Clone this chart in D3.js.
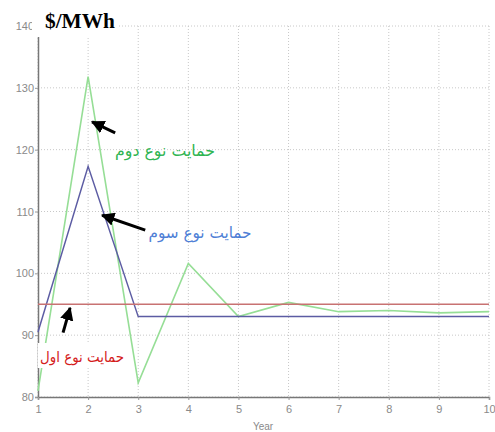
<!DOCTYPE html>
<html><head><meta charset="utf-8">
<script src="https://cdn.jsdelivr.net/npm/d3@7/dist/d3.min.js"></script>
<style>body{margin:0;background:#fff}svg{display:block}</style>
</head><body>
<svg id="c" width="495" height="432"></svg>
<script>
const years = [1,2,3,4,5,6,7,8,9,10];
const type1 = [95,95,95,95,95,95,95,95,95,95];
const type2 = [81,131.8,82.3,101.6,93,95.3,93.8,94,93.6,93.8];
const type3 = [90.5,117.3,93,93,93,93,93,93,93,93];
const yTicks = [80,90,100,110,120,130,140];
const xTicks = [1,2,3,4,5,6,7,8,9,10];
const labelType1 = "حمایت نوع اول";
const labelType2 = "حمایت نوع دوم";
const labelType3 = "حمایت نوع سوم";
const unitLabel = "$/MWh";
const xTitle = "Year";

const svg = d3.select("#c");
const x = d3.scaleLinear().domain([1,10]).range([38,489]);
const y = d3.scaleLinear().domain([80,140]).range([397,26]);

// grid
const grid = svg.append("g");
grid.selectAll("line.gx").data(xTicks).join("line")
  .attr("x1",d=>x(d)).attr("x2",d=>x(d)).attr("y1",y(140)).attr("y2",y(80))
  .attr("stroke","#c8c8c8").attr("stroke-width",1).attr("stroke-dasharray","1,2");
grid.selectAll("line.gy").data(yTicks).join("line")
  .attr("y1",d=>y(d)).attr("y2",d=>y(d)).attr("x1",x(1)).attr("x2",x(10))
  .attr("stroke","#c8c8c8").attr("stroke-width",1).attr("stroke-dasharray","1,2");

// axes
const yAxis = d3.axisLeft(y).tickValues(yTicks).tickSize(3).tickPadding(1);
const xAxis = d3.axisBottom(x).tickValues(xTicks).tickSize(3).tickPadding(5);
const gy = svg.append("g").attr("transform",`translate(${x(1)},0)`).call(yAxis);
const gx = svg.append("g").attr("transform",`translate(0,${y(80)})`).call(xAxis);
[gy,gx].forEach(g=>{
  g.select(".domain").attr("stroke","#777").attr("stroke-width",1.5);
  g.selectAll(".tick line").attr("stroke","#999");
  g.selectAll("text").attr("fill","#8a8a8a").style("font-family","Liberation Sans, Arial, sans-serif").style("font-size","11px");
});
svg.append("text").attr("x",263).attr("y",430).attr("text-anchor","middle")
  .attr("fill","#8a8a8a").style("font-family","Liberation Sans, Arial, sans-serif").style("font-size","10px").text(xTitle);

// lines
const line = d3.line().x((d,i)=>x(years[i])).y(d=>y(d));
svg.append("path").datum(type2).attr("d",line).attr("fill","none").attr("stroke","#96de96").attr("stroke-width",1.6);
svg.append("path").datum(type3).attr("d",line).attr("fill","none").attr("stroke","#5c5ca3").attr("stroke-width",1.5);
svg.append("path").datum(type1).attr("d",line).attr("fill","none").attr("stroke","#c87272").attr("stroke-width",1.5);

// unit box
svg.append("rect").attr("x",32).attr("y",0).attr("width",86).attr("height",37).attr("fill","#fff");
svg.append("text").attr("x",45).attr("y",28).attr("fill","#000")
  .style("font-family","Liberation Serif, Times New Roman, serif").style("font-weight","bold").style("font-size","20px")
  .attr("textLength",70).attr("lengthAdjust","spacingAndGlyphs").text(unitLabel);

// arrows
const defs = svg.append("defs");
defs.append("marker").attr("id","ah").attr("viewBox","0 0 10 10").attr("refX",9).attr("refY",5)
  .attr("markerWidth",4.5).attr("markerHeight",4.5).attr("orient","auto")
  .append("path").attr("d","M0,0 L10,5 L0,10 z").attr("fill","#000");
const arrows = [
  {x1:2.54,y1:122.7,x2:2.08,y2:124.5},
  {x1:3.14,y1:107.0,x2:2.28,y2:109.4},
  {x1:1.50,y1:90.4,x2:1.64,y2:94.4}
];
svg.selectAll("line.arr").data(arrows).join("line")
  .attr("x1",d=>x(d.x1)).attr("y1",d=>y(d.y1)).attr("x2",d=>x(d.x2)).attr("y2",d=>y(d.y2))
  .attr("stroke","#000").attr("stroke-width",3).attr("marker-end","url(#ah)");

// labels
svg.append("rect").attr("x",38).attr("y",343).attr("width",87).attr("height",25).attr("fill","#fff");
const af = "DejaVu Sans, Noto Sans, sans-serif";
svg.append("text").attr("x",165).attr("y",151).attr("text-anchor","middle").attr("dominant-baseline","middle")
  .attr("fill","#2fb552").style("font-family",af).style("font-size","16px").attr("direction","rtl")
  .attr("textLength",100).attr("lengthAdjust","spacingAndGlyphs").text(labelType2);
svg.append("text").attr("x",200).attr("y",233).attr("text-anchor","middle").attr("dominant-baseline","middle")
  .attr("fill","#4f7fd6").style("font-family",af).style("font-size","16px").attr("direction","rtl")
  .attr("textLength",103).attr("lengthAdjust","spacingAndGlyphs").text(labelType3);
svg.append("text").attr("x",82).attr("y",357).attr("text-anchor","middle").attr("dominant-baseline","middle")
  .attr("fill","#d41c1c").style("font-family",af).style("font-size","15px").attr("direction","rtl")
  .attr("textLength",84).attr("lengthAdjust","spacingAndGlyphs").text(labelType1);
</script>
</body></html>
